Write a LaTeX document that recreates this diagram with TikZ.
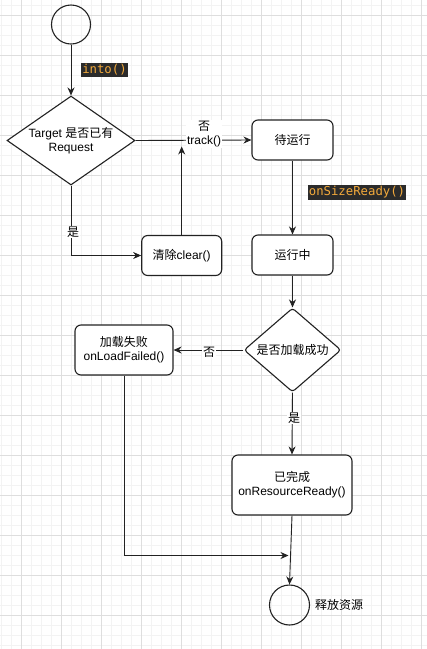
\documentclass[tikz,border=0pt]{standalone}
\usepackage{fontspec}
\setmainfont{Liberation Sans}
\setmonofont{DejaVu Sans Mono}
\newfontfamily\cjk{Noto Sans CJK SC}
\usetikzlibrary{shapes.geometric,arrows.meta}
\definecolor{gridminor}{HTML}{F3F3F3}
\definecolor{gridmajor}{HTML}{DEDEDE}
\definecolor{codebg}{HTML}{2B2B2B}
\definecolor{codefg}{HTML}{F2A93B}
\definecolor{edgecol}{HTML}{222222}
\tikzset{
  base/.style={font=\fontsize{12}{14}\selectfont, align=center, inner sep=0pt},
  term/.style={base, circle, draw=edgecol, line width=1.1pt, minimum size=39pt},
  stepbox/.style={base, rectangle, rounded corners=6pt, draw=edgecol, line width=1.1pt, fill=white},
  decide/.style={base, diamond, draw=edgecol, line width=1.1pt, fill=white},
  conn/.style={draw=edgecol, line width=0.9pt, -{Stealth[length=8pt,width=7pt]}},
  elabel/.style={base, fill=white, inner sep=1pt},
  codelabel/.style={font=\ttfamily\fontsize{12.3}{14}\selectfont, text=codefg, fill=codebg, inner xsep=1pt, inner ysep=1.5pt},
}
\begin{document}
\begin{tikzpicture}[x=1pt,y=-1pt]
\useasboundingbox (0,0) rectangle (427,649);
\fill[white] (0,0) rectangle (427,649);
% grid
\foreach \x in {1,11,...,421} \draw[gridminor, line width=0.8pt] (\x,0) -- (\x,649);
\foreach \y in {5,15,...,645} \draw[gridminor, line width=0.8pt] (0,\y) -- (427,\y);
\foreach \x in {21,61,...,421} \draw[gridmajor, line width=0.8pt] (\x,0) -- (\x,649);
\foreach \y in {15,55,...,615} \draw[gridmajor, line width=0.8pt] (0,\y) -- (427,\y);

% nodes
\node[term] (start) at (71,24.5) {};
\node[decide, aspect=1.44, minimum width=128pt, minimum height=89pt] (d1) at (71,140.5) {Target {\cjk 是否已有}\\Request};
\node[stepbox, minimum width=81pt, minimum height=40pt] (wait) at (292.5,140) {\cjk 待运行};
\node[stepbox, minimum width=80pt, minimum height=40pt] (clear) at (181.7,255.5) {{\cjk 清除}clear()};
\node[stepbox, minimum width=81pt, minimum height=40pt] (run) at (292.5,255) {\cjk 运行中};
\node[decide, rounded corners=3pt, aspect=1.155, minimum width=97pt, minimum height=84pt] (d2) at (292.5,350) {\cjk 是否加载成功};
\node[stepbox, minimum width=98pt, minimum height=50pt] (fail) at (124,350) {{\cjk 加载失败}\\onLoadFailed()};
\node[stepbox, minimum width=120pt, minimum height=60pt] (done) at (292,485) {{\cjk 已完成}\\onResourceReady()};
\node[term, minimum size=40pt] (end) at (289.5,605) {};
\node[base, anchor=west] (endlabel) at (315,605) {\cjk 释放资源};

\coordinate (trackend) at (181.7,146.5);
\coordinate (relpt) at (288.5,555.5);

% connectors
\draw[conn] (start.south) -- (d1.north);
\node[codelabel] (lblinto) at (104.5,70) {into()};

\draw[conn] (d1.east) -- (wait.west);
\node[elabel] (lblno1) at (204,134) {{\cjk 否}\\track()};

\draw[conn] (d1.south) |- (clear.west);
\node[elabel] (lblyes1) at (73,232) {\cjk 是};

\draw[conn] (clear.north) -- (trackend);

\draw[conn] (wait.south) -- (run.north);
\node[codelabel] (lblsize) at (357,192.5) {onSizeReady()};

\draw[conn] (run.south) -- (d2.north);

\draw[conn] (d2.west) -- (fail.east);
\node[elabel] (lblno2) at (209,352) {\cjk 否};

\draw[conn] (d2.south) -- (done.north);
\node[elabel] (lblyes2) at (294,418) {\cjk 是};

\draw[conn] (done.south) -- (end.north);
\draw[conn] (fail.south) |- (relpt);
\end{tikzpicture}
\end{document}
